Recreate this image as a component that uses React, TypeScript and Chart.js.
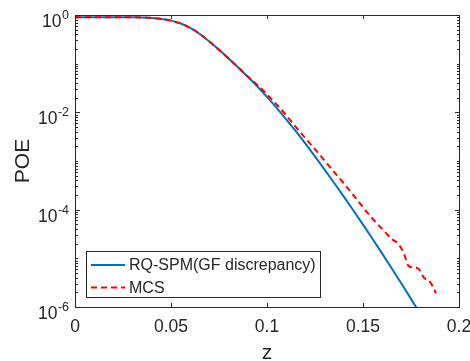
import React, { useEffect, useRef } from "react";
import { Chart, registerables } from "chart.js";
Chart.register(...registerables);

// RQ-SPM (GF discrepancy) curve
const zBlue = [0, 0.005, 0.01, 0.015, 0.02, 0.025, 0.03, 0.035, 0.04, 0.045, 0.05, 0.055, 0.06, 0.065, 0.07, 0.075, 0.08, 0.085, 0.09, 0.095, 0.1, 0.105, 0.11, 0.115, 0.12, 0.125, 0.13, 0.135, 0.14, 0.145, 0.15, 0.155, 0.16, 0.165, 0.17, 0.175, 0.18];
const poeBlue = [0.9, 0.9, 0.9, 0.9, 0.9, 0.9, 0.9, 0.891, 0.871, 0.832, 0.767, 0.668, 0.543, 0.407, 0.285, 0.193, 0.128, 0.0837, 0.0537, 0.0339, 0.0208, 0.01238, 7.2e-3, 4.1e-3, 2.28e-3, 1.24e-3, 6.65e-4, 3.53e-4, 1.85e-4, 9.6e-5, 4.93e-5, 2.5e-5, 1.25e-5, 6.2e-6, 3.04e-6, 1.47e-6, 7.0e-7];

// MCS curve
const zMcs = [0, 0.005, 0.01, 0.015, 0.02, 0.025, 0.03, 0.035, 0.04, 0.045, 0.05, 0.055, 0.06, 0.065, 0.07, 0.075, 0.08, 0.085, 0.09, 0.095, 0.1, 0.105, 0.11, 0.115, 0.12, 0.125, 0.13, 0.135, 0.14, 0.145, 0.15, 0.155, 0.16, 0.165, 0.168, 0.171, 0.174, 0.1785, 0.182, 0.184, 0.1865, 0.188];
const poeMcs = [0.9, 0.9, 0.9, 0.9, 0.9, 0.9, 0.9, 0.891, 0.871, 0.832, 0.767, 0.668, 0.543, 0.407, 0.285, 0.193, 0.128, 0.0837, 0.0545, 0.0363, 0.0234, 0.0145, 8.7e-3, 5.0e-3, 2.95e-3, 1.74e-3, 1.02e-3, 5.9e-4, 3.47e-4, 2.0e-4, 1.12e-4, 6.5e-5, 4.0e-5, 2.5e-5, 2.05e-5, 1.35e-5, 6.8e-6, 6.3e-6, 3.9e-6, 3.6e-6, 2.6e-6, 1.9e-6];

const xTicks = [0, 0.05, 0.1, 0.15, 0.2];
const xTickLabels = ["0", "0.05", "0.1", "0.15", "0.2"];
const yTicks = [1, 1e-2, 1e-4, 1e-6];
const yTickExps = ["0", "-2", "-4", "-6"];
const seriesLabels = ["RQ-SPM(GF discrepancy)", "MCS"];
const xTitle = "z";
const yTitle = "POE";

const AXIS = "#262626";
const BLUE = "#0072BD";
const RED = "#FF0000";
const FONT = '"Liberation Sans", Arial, Helvetica, sans-serif';

const decorPlugin = {
  id: "matlabDecor",
  afterDraw(chart: any) {
    const ctx = chart.ctx as CanvasRenderingContext2D;
    const { left, right, top, bottom } = chart.chartArea;
    const xs = chart.scales.x;
    const ys = chart.scales.y;
    ctx.save();
    ctx.strokeStyle = AXIS;
    ctx.lineWidth = 1;
    // box
    ctx.strokeRect(left + 0.5, top + 0.5, right - left, bottom - top);
    // x ticks
    ctx.beginPath();
    xTicks.forEach((v) => {
      const px = Math.round(xs.getPixelForValue(v)) + 0.5;
      ctx.moveTo(px, bottom);
      ctx.lineTo(px, bottom - 4);
      ctx.moveTo(px, top);
      ctx.lineTo(px, top + 4);
    });
    // y ticks (major + minor)
    for (let k = -6; k <= 0; k++) {
      for (let m = 1; m <= 9; m++) {
        const v = m * Math.pow(10, k);
        if (v > 1.0001) continue;
        const major = m === 1 && k % 2 === 0;
        const len = major ? 5 : 3;
        const py = Math.round(ys.getPixelForValue(v)) + 0.5;
        ctx.moveTo(left, py);
        ctx.lineTo(left + len, py);
        ctx.moveTo(right + 1, py);
        ctx.lineTo(right + 1 - len, py);
      }
    }
    ctx.stroke();

    ctx.fillStyle = AXIS;
    // x tick labels
    ctx.font = `17.5px ${FONT}`;
    ctx.textAlign = "center";
    ctx.textBaseline = "alphabetic";
    xTicks.forEach((v, i) => {
      ctx.fillText(xTickLabels[i], xs.getPixelForValue(v), bottom + 25);
    });
    // y tick labels: 10^exp, right aligned
    yTicks.forEach((v, i) => {
      const py = ys.getPixelForValue(v);
      ctx.font = `12.5px ${FONT}`;
      const supW = ctx.measureText(yTickExps[i]).width;
      const rightEdge = left - 6;
      ctx.textAlign = "right";
      ctx.fillText(yTickExps[i], rightEdge, py + 4);
      ctx.font = `17.5px ${FONT}`;
      ctx.fillText("10", rightEdge - supW - 0.5, py + 12);
    });
    // axis titles
    ctx.font = `21px ${FONT}`;
    ctx.textAlign = "center";
    ctx.fillText(xTitle, (left + right) / 2, bottom + 52);
    ctx.save();
    ctx.translate(29, (top + bottom) / 2);
    ctx.rotate(-Math.PI / 2);
    ctx.fillText(yTitle, 0, 0);
    ctx.restore();

    // legend
    const lx = 86.5, ly = 251.5, lw = 234, lh = 46;
    ctx.fillStyle = "#ffffff";
    ctx.fillRect(lx, ly, lw, lh);
    ctx.strokeStyle = AXIS;
    ctx.lineWidth = 1;
    ctx.strokeRect(lx, ly, lw, lh);
    const rows = [265, 287.5];
    const colors = [BLUE, RED];
    const dashes = [[], [6, 4]];
    rows.forEach((ry, i) => {
      ctx.beginPath();
      ctx.strokeStyle = colors[i];
      ctx.lineWidth = 2;
      ctx.setLineDash(dashes[i]);
      ctx.moveTo(91, ry);
      ctx.lineTo(125, ry);
      ctx.stroke();
      ctx.setLineDash([]);
      ctx.fillStyle = AXIS;
      ctx.font = `16px ${FONT}`;
      ctx.textAlign = "left";
      ctx.textBaseline = "middle";
      ctx.fillText(seriesLabels[i], 129, ry + 1);
    });
    ctx.restore();
  },
};

export default function App() {
  const ref = useRef<HTMLCanvasElement | null>(null);
  useEffect(() => {
    if (!ref.current) return;
    const chart = new Chart(ref.current, {
      type: "line",
      data: {
        datasets: [
          {
            label: seriesLabels[0],
            data: zBlue.map((z, i) => ({ x: z, y: poeBlue[i] })),
            borderColor: BLUE,
            borderWidth: 2,
            pointRadius: 0,
            cubicInterpolationMode: "monotone",
            order: 1,
          },
          {
            label: seriesLabels[1],
            data: zMcs.map((z, i) => ({ x: z, y: poeMcs[i] })),
            borderColor: RED,
            borderWidth: 2,
            borderDash: [6, 4],
            pointRadius: 0,
            cubicInterpolationMode: "monotone",
            order: 0,
          },
        ],
      },
      options: {
        animation: false,
        responsive: true,
        maintainAspectRatio: false,
        layout: { padding: { left: 75, top: 15, right: 11, bottom: 54 } },
        plugins: { legend: { display: false }, tooltip: { enabled: false } },
        scales: {
          x: { type: "linear", min: 0, max: 0.2, display: false },
          y: { type: "logarithmic", min: 1e-6, max: 1, display: false },
        },
      },
      plugins: [decorPlugin],
    });
    return () => chart.destroy();
  }, []);
  return (
    <div style={{ position: "absolute", left: 0, top: 0, width: 470, height: 361, background: "#fff" }}>
      <canvas ref={ref} />
    </div>
  );
}
